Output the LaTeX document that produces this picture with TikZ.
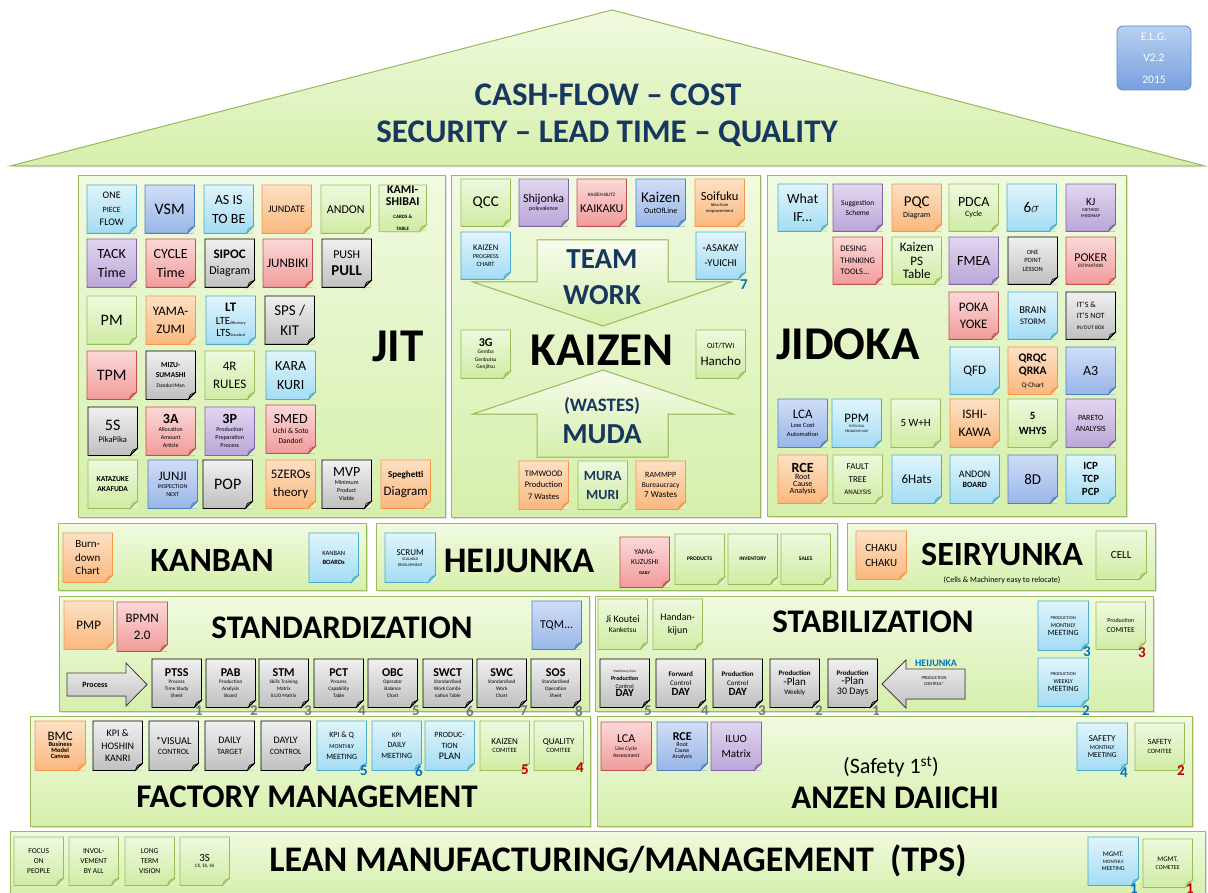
\documentclass[tikz,border=0pt]{standalone}
\usepackage{fontspec}
\setmainfont{Carlito}
\usepackage{xcolor}
\usepackage{tikz}
\usetikzlibrary{shadows}

% sticky note colours: top, bottom, border
\definecolor{grT}{RGB}{238,249,222}\definecolor{grB}{RGB}{208,236,164}\definecolor{grD}{RGB}{155,187,89}
\definecolor{cyT}{RGB}{224,244,252}\definecolor{cyB}{RGB}{164,220,244}\definecolor{cyD}{RGB}{75,172,198}
\definecolor{blT}{RGB}{208,221,246}\definecolor{blB}{RGB}{152,182,232}\definecolor{blD}{RGB}{79,129,189}
\definecolor{orT}{RGB}{253,224,196}\definecolor{orB}{RGB}{250,184,126}\definecolor{orD}{RGB}{247,150,70}
\definecolor{rdT}{RGB}{252,216,216}\definecolor{rdB}{RGB}{240,156,154}\definecolor{rdD}{RGB}{192,80,77}
\definecolor{puT}{RGB}{226,214,240}\definecolor{puB}{RGB}{186,166,216}\definecolor{puD}{RGB}{128,100,162}
\definecolor{gyT}{RGB}{240,240,240}\definecolor{gyB}{RGB}{192,192,192}\definecolor{gyD}{RGB}{0,0,0}
% panels
\definecolor{pnT}{RGB}{240,250,224}\definecolor{pnB}{RGB}{214,239,172}\definecolor{pnD}{RGB}{155,187,89}
\colorlet{pnM}{pnT!45!pnB}
\definecolor{navy}{RGB}{23,55,94}
\definecolor{numblue}{RGB}{0,112,192}
\definecolor{numred}{RGB}{192,0,0}
\definecolor{numgray}{RGB}{118,118,118}
\definecolor{elgT}{RGB}{184,208,242}
\definecolor{elgB}{RGB}{118,160,222}
\definecolor{elgD}{RGB}{96,136,198}

\newcommand\sz[1]{\fontsize{#1}{\fpeval{1.35*#1}}\selectfont}

% \postit[opts]{name}{x,y}{colour}{text}: note with folded corner
\newcommand{\postit}[5][]{%
  \node[note=#4, #1] (#2) at (#3) {#5};
  \fill[pnM] ([yshift=7pt]#2.south east) -- (#2.south east) -- ([xshift=-7pt]#2.south east) -- cycle;
  \filldraw[fill=#4B!75!#4D, draw=#4D, line width=0.6pt] ([yshift=7pt]#2.south east)
    -- ([xshift=-7pt]#2.south east) -- ([shift={(-5pt,5pt)}]#2.south east) -- cycle;
  \draw[#4D, line width=0.8pt] (#2.north west) -- (#2.north east) -- ([yshift=7pt]#2.south east)
    -- ([xshift=-7pt]#2.south east) -- (#2.south west) -- cycle;
}

\begin{document}
\begin{tikzpicture}[
  x=1pt, y=-1pt,
  note/.style={top color=#1T, bottom color=#1B, minimum width=49pt, minimum height=48pt,
               inner sep=0.5pt, align=center, anchor=north west},
  panel/.style={top color=pnT, bottom color=pnB, draw=pnD, line width=1pt, inner sep=0pt,
                anchor=north west, drop shadow={shadow xshift=1.5pt, shadow yshift=-1.5pt, opacity=0.25}},
  bigarrow/.style={top color=pnT!60!white, bottom color=pnB, draw=pnD, line width=1pt},
  grayarrow/.style={top color=gyT, bottom color=gyB, draw=black!75, line width=0.8pt},
  lbl/.style={font=\sz{34}\bfseries, inner sep=0pt},
  hugelbl/.style={font=\sz{47}\bfseries, inner sep=0pt},
  navylbl/.style={font=\sz{29}\bfseries, text=navy, inner sep=0pt},
  numlab/.style={font=\sz{15}\bfseries, inner sep=0pt},
  badge/.style={rounded corners=6pt, top color=elgT, bottom color=elgB, draw=elgD,
                line width=0.8pt, minimum width=74pt, minimum height=64pt,
                text=white, align=center},
]
\useasboundingbox (0,0) rectangle (1208,893);

% roof
\filldraw[top color=pnT, bottom color=pnB, draw=pnD, line width=1pt,
  drop shadow={shadow xshift=1.5pt, shadow yshift=-1.5pt, opacity=0.25}]
  (10,166) -- (612,10) -- (1205,166) -- cycle;
\node[font=\sz{33}\bfseries, text=navy] (cash) at (608,95) {CASH-FLOW -- COST};
\node[font=\sz{33}\bfseries, text=navy] (secu) at (607,134) {SECURITY -- LEAD TIME -- QUALITY};
\node[badge, font=\fontsize{11.5}{21.5}\selectfont] (elg) at (1154,58) {E.L.G.\\V2.2\\2015};

% ---------------- JIT
\node[panel, minimum width=367, minimum height=342] (jit) at (78,175) {};
\node[hugelbl] (jitlbl) at (398,346) {JIT};
\postit[font=\sz{10}]{onepiece}{87,185}{cy}{ONE\\{\sz{8}PIECE}\\FLOW}
\postit[font=\sz{16}]{vsm}{145,185}{bl}{VSM}
\postit[font=\sz{14}]{asis}{204,185}{cy}{AS IS\\TO BE}
\postit[font=\sz{10}]{jundate}{262,185}{or}{JUNDATE}
\postit[font=\sz{12}]{andon}{321,185}{gr}{ANDON}
\postit[minimum width=47, minimum height=44, font=\fontsize{12}{12.5}\selectfont\bfseries]{kamishibai}{379,185}{gr}{KAMI-\\SHIBAI\\{\fontsize{5}{5.5}\selectfont CARDS \&}\\{\fontsize{5}{5.5}\selectfont TABLE}}
\postit[font=\sz{14}]{tack}{87,239}{pu}{TACK\\Time}
\postit[font=\sz{14}]{cycle}{146,239}{rd}{CYCLE\\Time}
\postit[font=\sz{12}]{sipoc}{205,239}{gy}{{\sz{13}\bfseries SIPOC}\\Diagram}
\postit[font=\sz{13}]{junbiki}{263,239}{rd}{JUNBIKI}
\postit[font=\sz{12}]{pushpull}{322,239}{gy}{PUSH\\{\sz{15}\bfseries PULL}}
\postit[font=\sz{16}]{pm}{87,296}{gr}{PM}
\postit[font=\sz{13}]{yamazumi}{146,296}{or}{YAMA-\\ZUMI}
\postit[font=\fontsize{11}{12.5}\selectfont]{lt}{206,296}{cy}{{\fontsize{13}{13}\selectfont\bfseries LT}\\LTE{\sz{4}Efficiency}\\LTS{\sz{4}Standard}}
\postit[font=\sz{15}]{spskit}{265,296}{gy}{SPS /\\KIT}
\postit[font=\sz{16}]{tpm}{87,351}{rd}{TPM}
\postit[font=\sz{7.5}\bfseries]{mizu}{146,351}{gy}{MIZU-\\SUMASHI\\{\sz{5.5}\mdseries DandoriMan}}
\postit[font=\sz{13}]{fourr}{205,351}{gr}{4R\\RULES}
\postit[font=\sz{14}]{karakuri}{266,351}{cy}{KARA\\KURI}
\postit[font=\sz{8.5}]{fives}{88,407}{gy}{{\sz{16}5S}\\PikaPika}
\postit[font=\sz{6}]{threea}{146,407}{rd}{{\sz{14}\bfseries 3A}\\Allocation\\Amount\\Article}
\postit[font=\sz{6}]{threep}{205,407}{pu}{{\sz{14}\bfseries 3P}\\Production\\Preparation\\Process}
\postit[font=\sz{7.5}]{smed}{266,405}{rd}{{\sz{14}SMED}\\Uchi \& Soto\\Dandori}
\postit[font=\sz{7.5}\bfseries]{katazuke}{88,460}{gr}{KATAZUKE\\AKAFUDA}
\postit[font=\sz{6}]{junji}{148,460}{bl}{{\sz{13}JUNJI}\\INSPECTION\\NEXT}
\postit[font=\sz{16}]{pop}{203,460}{gy}{POP}
\postit[font=\sz{13}]{fivezeros}{266,460}{or}{5ZEROs\\theory}
\postit[font=\sz{6}]{mvp}{322,460}{gy}{{\sz{14}MVP}\\Minimum\\Product\\Viable}
\postit[font=\sz{13}]{spaghetti}{381,460}{or}{{\sz{9}\bfseries Speghetti}\\Diagram}

% ---------------- KAIZEN
\node[panel, minimum width=309, minimum height=342] (kaizen) at (451,175) {};
\filldraw[bigarrow] (537,240) -- (668,240) -- (668,282) -- (731,282) -- (603,326)
  -- (473,282) -- (537,282) -- cycle;
\filldraw[bigarrow] (603,370) -- (733,414) -- (668,414) -- (668,457) -- (537,457)
  -- (537,414) -- (473,414) -- cycle;
\node[navylbl] (team) at (602,259) {TEAM};
\node[navylbl] (work) at (602,295) {WORK};
\node[hugelbl] (kaizenlbl) at (602,350) {KAIZEN};
\node[navylbl, font=\sz{19}\bfseries] (wastes) at (602,406) {(WASTES)};
\node[navylbl] (muda) at (602,434) {MUDA};
\postit[minimum height=47, font=\sz{15}]{qcc}{461,179}{gr}{QCC}
\postit[minimum height=47, font=\sz{6}]{shijonka}{519,179}{pu}{{\sz{12}Shijonka}\\polyvalence}
\postit[minimum height=47, font=\sz{12}]{kaikaku}{577,179}{rd}{{\sz{5}KAIZEN-BLITZ}\\KAIKAKU}
\postit[minimum height=47, font=\sz{8}]{outofline}{636,179}{bl}{{\sz{15}Kaizen}\\OutOfLine}
\postit[minimum height=47, font=\sz{4.5}]{soifuku}{695,179}{or}{{\sz{12.5}Soifuku}\\Idea from\\empowerment}
\postit[minimum height=47, font=\sz{6}]{progress}{461,232}{cy}{{\sz{8.5}KAIZEN}\\PROGRESS\\{\sz{6.5}CHART}}
\postit[minimum height=47, font=\sz{10.5}]{asakay}{696,232}{cy}{-ASAKAY\\-YUICHI}
\postit[minimum height=48, font=\sz{5.5}]{threeg}{461,330}{gr}{{\sz{12}\bfseries 3G}\\Gemba\\Genbutsu\\Genjitsu}
\postit[minimum height=48, font=\sz{13}]{ojt}{696,330}{gr}{{\sz{8}OJT/TWI}\\Hancho}
\postit[font=\sz{8.5}]{timwood}{519,461}{or}{TIMWOOD\\Production\\7 Wastes}
\postit[text=navy, font=\sz{14}\bfseries]{muramuri}{578,461}{gr}{MURA\\MURI}
\postit[font=\sz{7.5}]{rammpp}{636,461}{or}{{\sz{8}RAMMPP}\\Bureaucracy\\{\sz{9}7 Wastes}}
\node[numlab, text=numblue] (k7) at (744,285) {7};

% ---------------- JIDOKA
\node[panel, minimum width=359, minimum height=341] (jidoka) at (767,175) {};
\node[hugelbl] (jidokalbl) at (848,344) {JIDOKA};
\postit[minimum height=47, font=\sz{14}]{whatif}{778,184}{cy}{What\\IF...}
\postit[minimum height=47, font=\sz{7.5}]{suggestion}{833,184}{pu}{Suggestion\\Scheme}
\postit[minimum height=47, font=\sz{8}]{pqc}{892,184}{or}{{\sz{15}PQC}\\Diagram}
\postit[minimum height=47, font=\sz{8}]{pdca}{949,184}{gr}{{\sz{14}PDCA}\\Cycle}
\postit[minimum height=47, font=\sz{15}]{sixsigma}{1007,184}{cy}{6$\sigma$}
\postit[minimum height=47, font=\sz{4.5}]{kj}{1066,184}{pu}{{\sz{11}KJ}\\METHOD\\MINDMAP}
\postit[minimum height=47, align=left, font=\sz{8.5}]{desing}{833,237}{rd}{DESING\\THINKING\\TOOLS...}
\postit[minimum height=47, font=\fontsize{13}{13.5}\selectfont]{kaizenps}{892,237}{gr}{Kaizen\\PS\\Table}
\postit[minimum height=47, font=\sz{14}]{fmea}{949,237}{pu}{FMEA}
\postit[minimum height=47, font=\sz{6.5}]{onepoint}{1008,237}{gy}{ONE\\POINT\\LESSON}
\postit[minimum height=47, font=\sz{5}]{poker}{1066,237}{rd}{{\sz{12}POKER}\\ESTIMATION}
\postit[minimum height=47, font=\sz{13}]{pokayoke}{949,292}{rd}{POKA\\YOKE}
\postit[minimum height=47, font=\sz{8.5}]{brain}{1008,292}{cy}{{\sz{10.5}BRAIN}\\STORM}
\postit[minimum height=47, align=left, font=\sz{8}]{itsnot}{1066,292}{gy}{IT'S \&\\IT'S NOT\\{\sz{5.5}IN/OUT BOX}}
\postit[minimum height=47, font=\sz{13}]{qfd}{950,347}{cy}{QFD}
\postit[minimum height=47, font=\fontsize{11.5}{13}\selectfont\bfseries]{qrqc}{1008,347}{or}{QRQC\\QRKA\\{\sz{7}\mdseries Q-Chart}}
\postit[minimum height=47, font=\sz{14}]{athree}{1066,347}{bl}{A3}
\postit[font=\sz{6.5}]{lca}{778,399}{bl}{{\sz{13}LCA}\\Low Cost\\Automation}
\postit[font=\sz{3.5}]{ppm}{832,399}{cy}{{\sz{13}PPM}\\POTENTIAL\\PROBLEMS MAP}
\postit[font=\sz{11}]{fivewh}{891,399}{gr}{5 W+H}
\postit[font=\sz{13}]{ishikawa}{950,399}{or}{ISHI-\\KAWA}
\postit[font=\sz{11}\bfseries]{fivewhys}{1008,399}{gr}{5\\WHYS}
\postit[font=\sz{8}]{pareto}{1066,399}{pu}{PARETO\\ANALYSIS}
\postit[font=\fontsize{8}{7.2}\selectfont]{rce}{778,455}{or}{{\fontsize{14}{15}\selectfont\bfseries RCE}\\Root\\Cause\\Analysis}
\postit[font=\sz{9}]{fault}{833,455}{gr}{FAULT\\TREE\\{\sz{7}ANALYSIS}}
\postit[font=\sz{13}]{sixhats}{892,455}{cy}{6Hats}
\postit[font=\sz{8}\bfseries]{andonboard}{950,455}{cy}{{\sz{10}\mdseries ANDON}\\BOARD}
\postit[font=\sz{15}]{eightd}{1008,455}{bl}{8D}
\postit[font=\fontsize{11}{13}\selectfont\bfseries]{icp}{1066,455}{cy}{ICP\\TCP\\PCP}

% ---------------- KANBAN / HEIJUNKA / SEIRYUNKA
\node[panel, minimum width=308, minimum height=67] (kanban) at (58,523) {};
\node[lbl] (kanbanlbl) at (212,560) {KANBAN};
\postit[minimum height=49, font=\fontsize{11}{13.5}\selectfont]{burndown}{63,533}{or}{Burn-\\down\\Chart}
\postit[minimum height=49, font=\sz{6.5}]{kbboards}{309,533}{cy}{KANBAN\\{\bfseries BOARDs}}
\node[panel, minimum width=461, minimum height=67] (heijunka) at (376,523) {};
\node[lbl, font=\sz{36}\bfseries] (heijunkalbl) at (519,561) {HEIJUNKA};
\postit[minimum width=50, minimum height=49, font=\sz{4}]{scrum}{385,533}{cy}{{\sz{9}SCRUM}\\SCALABLE\\DEVELOPMENT}
\postit[minimum height=50, font=\sz{7.5}]{yamakuzushi}{620,537}{rd}{YAMA-\\KUZUSHI\\{\sz{4.5}\bfseries DAILY}}
\postit[minimum height=50, font=\sz{5.5}\bfseries]{products}{675,534}{gr}{PRODUCTS}
\postit[minimum height=50, font=\sz{5.5}\bfseries]{inventory}{728,534}{gr}{INVENTORY}
\postit[minimum height=50, font=\sz{5.5}\bfseries]{sales}{781,534}{gr}{SALES}
\node[panel, minimum width=308, minimum height=67] (seiryunka) at (847,523) {};
\node[lbl] (seiryunkalbl) at (1002,554) {SEIRYUNKA};
\node[font=\sz{8}] (relocate) at (1002,580) {(Cells \& Machinery easy to relocate)};
\postit[minimum width=50, minimum height=48, font=\sz{11}]{chaku}{856,531}{or}{CHAKU\\CHAKU}
\postit[minimum width=50, minimum height=48, font=\sz{11}]{cell}{1096,531}{gr}{CELL}

% ---------------- STANDARDIZATION
\node[panel, minimum width=530, minimum height=115] (standard) at (59,596) {};
\node[lbl, font=\sz{33}\bfseries] (standardlbl) at (342,628) {STANDARDIZATION};
\postit[font=\sz{13}]{pmp}{64,601}{or}{PMP}
\postit[minimum width=50, minimum height=49, font=\sz{13}]{bpmn}{117,602}{rd}{BPMN\\2.0}
\postit[font=\sz{12}]{tqm}{532,601}{bl}{TQM...}
\filldraw[grayarrow] (67,673) -- (126,673) -- (126,663) -- (147,684.5) -- (126,706)
  -- (126,696) -- (67,696) -- cycle;
\node[font=\sz{8}\bfseries] (process) at (95,685) {Process};
\tikzset{gynote/.style={font=\sz{5.2}}}
\postit[gynote]{ptss}{152,659}{gy}{{\sz{12}\bfseries PTSS}\\Process\\Time Study\\Sheet}
\postit[gynote]{pab}{206,659}{gy}{{\sz{12}\bfseries PAB}\\Production\\Analysis\\Board}
\postit[gynote]{stm}{259,659}{gy}{{\sz{12}\bfseries STM}\\Skills Training\\Matrix\\ILUO Matrix}
\postit[gynote]{pct}{314,659}{gy}{{\sz{12}\bfseries PCT}\\Process\\Capability\\Table}
\postit[gynote]{obc}{368,659}{gy}{{\sz{12}\bfseries OBC}\\Operator\\Balance\\Chart}
\postit[gynote]{swct}{423,659}{gy}{{\sz{12}\bfseries SWCT}\\Standardised\\Work Combi-\\nation Table}
\postit[gynote]{swc}{477,659}{gy}{{\sz{12}\bfseries SWC}\\Standardised\\Work\\Chart}
\postit[gynote]{sos}{531,659}{gy}{{\sz{12}\bfseries SOS}\\Standardised\\Operation\\Sheet}
\foreach \n/\x in {1/199,2/254,3/308,4/362,5/416,6/470,7/524,8/579}
  \node[numlab, text=numgray] (sn\n) at (\x,711) {\n};

% ---------------- STABILIZATION
\node[panel, minimum width=558, minimum height=115] (stabil) at (595,596) {};
\node[lbl, font=\sz{33}\bfseries] (stabillbl) at (873,622) {STABILIZATION};
\postit[minimum height=50, font=\sz{7.5}]{jikoutei}{598,599}{gr}{{\sz{10}Ji Koutei}\\Kanketsu}
\postit[minimum height=50, font=\sz{10}]{handan}{653,599}{gr}{Handan-\\kijun}
\postit[minimum width=50, minimum height=49, font=\sz{6}]{pmonthly}{1038,601}{cy}{{\sz{4.5}PRODUCTION}\\MONTHLY\\{\sz{8}MEETING}}
\postit[minimum height=47, font=\sz{7.5}]{pcomitee}{1096,602}{gr}{{\sz{6}Production}\\COMITEE}
\postit[minimum width=50, font=\sz{6}]{pweekly}{1038,658}{cy}{{\sz{4.5}PRODUCTION}\\WEEKLY\\{\sz{8}MEETING}}
\postit[font=\sz{6}]{mcday}{600,659}{gy}{{\sz{3.5}Machinery/Line}\\{\bfseries Production}\\Control\\{\sz{11}\bfseries DAY}}
\postit[font=\sz{7}]{fwday}{656,659}{gy}{{\bfseries Forward}\\Control\\{\sz{11}\bfseries DAY}}
\postit[font=\sz{7}]{pcday}{713,659}{gy}{{\bfseries Production}\\Control\\{\sz{11}\bfseries DAY}}
\postit[font=\sz{7}]{planweek}{770,659}{gy}{{\bfseries Production}\\{\sz{11}-Plan}\\Weekly}
\postit[font=\sz{7}]{planmonth}{828,659}{gy}{{\bfseries Production}\\{\sz{11}-Plan}\\{\sz{10}30 Days}}
\filldraw[grayarrow] (965,669) -- (906,669) -- (906,660) -- (882,684) -- (906,708)
  -- (906,699) -- (965,699) -- cycle;
\node[font=\sz{10}\bfseries, text=numblue, inner sep=0pt] (hjk) at (936,663) {HEIJUNKA};
\node[font=\sz{4.5}, align=center, inner sep=0pt] (hjkctrl) at (934,681) {PRODUCTION\\CONTROL*};
\foreach \n/\x in {5/648,4/705,3/762,2/819,1/876}
  \node[numlab, text=numgray] (st\n) at (\x,711) {\n};
\node[numlab, text=numblue] (pm3) at (1087,652) {3};
\node[numlab, text=numred] (pc3) at (1142,653) {3};
\node[numlab, text=numblue] (pw2) at (1086,711) {2};

% ---------------- FACTORY MANAGEMENT
\node[panel, minimum width=560, minimum height=110] (factory) at (30,716) {};
\node[lbl, font=\sz{33}\bfseries] (factorylbl) at (307,797) {FACTORY MANAGEMENT};
\postit[minimum width=50, minimum height=49, font=\fontsize{6.5}{6}\selectfont\bfseries]{bmc}{35,721}{or}{{\fontsize{13}{14}\selectfont\mdseries BMC}\\Business\\Model\\Canvas}
\postit[minimum height=49, font=\fontsize{10}{12.5}\selectfont]{hoshin}{93,721}{gy}{KPI \&\\HOSHIN\\KANRI}
\postit[minimum height=49, font=\sz{8}]{visual}{149,721}{gy}{{\sz{10.5}*VISUAL}\\CONTROL}
\postit[minimum height=49, font=\sz{8}]{dtarget}{205,721}{gy}{{\sz{10}DAILY}\\TARGET}
\postit[minimum height=49, font=\sz{8}]{dcontrol}{261,721}{gy}{{\sz{10}DAYLY}\\CONTROL}
\postit[minimum height=49, font=\sz{8}]{kpiq}{317,721}{cy}{KPI \& Q\\{\sz{6}MONTHLY}\\MEETING}
\postit[minimum height=49, font=\sz{8}]{kpidaily}{372,721}{cy}{{\sz{7}KPI}\\DAILY\\MEETING}
\postit[minimum height=49, font=\sz{8}]{prodplan}{425,721}{cy}{PRODUC-\\TION\\{\sz{10}PLAN}}
\postit[minimum height=49, font=\sz{6.5}]{kcomitee}{480,721}{gr}{{\sz{9}KAIZEN}\\COMITEE}
\postit[minimum height=49, font=\sz{6.5}]{qcomitee}{534,721}{gr}{{\sz{9}QUALITY}\\COMITEE}
\node[numlab, text=numblue] (kq5) at (364,771) {5};
\node[numlab, text=numblue] (kd6) at (419,771) {6};
\node[numlab, text=numred] (kc5) at (525,770) {5};
\node[numlab, text=numred] (qc4) at (580,768) {4};

% ---------------- ANZEN DAIICHI
\node[panel, minimum width=595, minimum height=110] (anzen) at (597,716) {};
\node[font=\sz{22}, inner sep=0pt] (safety) at (891,767) {(Safety 1\textsuperscript{st})};
\node[lbl, font=\sz{33}\bfseries] (anzenlbl) at (895,798) {ANZEN DAIICHI};
\postit[minimum width=50, minimum height=48, font=\sz{5.5}]{lcaa}{601,722}{rd}{{\sz{12}LCA}\\Live Cycle\\Assessment}
\postit[minimum width=50, minimum height=48, font=\fontsize{6}{6}\selectfont]{rcea}{657,722}{bl}{{\fontsize{12}{13}\selectfont\bfseries RCE}\\Root\\Cause\\Analysis}
\postit[minimum width=50, minimum height=48, font=\sz{11}]{iluo}{711,722}{pu}{ILUO\\Matrix}
\postit[minimum width=50, minimum height=47, font=\sz{6}]{smonthly}{1077,723}{cy}{{\sz{9}SAFETY}\\MONTHLY\\{\sz{7.5}MEETING}}
\postit[minimum height=47, font=\sz{6.5}]{scomitee}{1135,723}{gr}{{\sz{8}SAFETY}\\COMITEE}
\node[numlab, text=numblue] (sm4) at (1124,773) {4};
\node[numlab, text=numred] (sc2) at (1181,771) {2};

% ---------------- LEAN MANUFACTURING base
\node[panel, minimum width=1195, minimum height=64] (base) at (10,831) {};
\node[lbl, font=\sz{36}\bfseries] (leanlbl) at (618,861) {LEAN MANUFACTURING/MANAGEMENT\ \ (TPS)};
\postit[font=\sz{7.5}]{focus}{14,837}{gr}{FOCUS\\ON\\PEOPLE}
\postit[font=\sz{7.5}]{involve}{69,837}{gr}{INVOL-\\VEMENT\\BY ALL}
\postit[font=\sz{7.5}]{longterm}{125,837}{gr}{LONG\\TERM\\VISION}
\postit[font=\sz{5}]{threes}{180,837}{gr}{{\sz{11}3S}\\CS, ES, SS}
\postit[minimum width=50, font=\sz{5}]{mgmtmonthly}{1088,837}{cy}{{\sz{7}MGMT.}\\MONTHLY\\{\sz{6}MEETING}}
\postit[font=\sz{6}]{mgmtcometee}{1143,839}{gr}{{\sz{7}MGMT.}\\COMETEE}
\node[numlab, text=numblue] (mm1) at (1134,889) {1};
\node[numlab, text=numred] (mc1) at (1190,889) {1};

\end{tikzpicture}
\end{document}
